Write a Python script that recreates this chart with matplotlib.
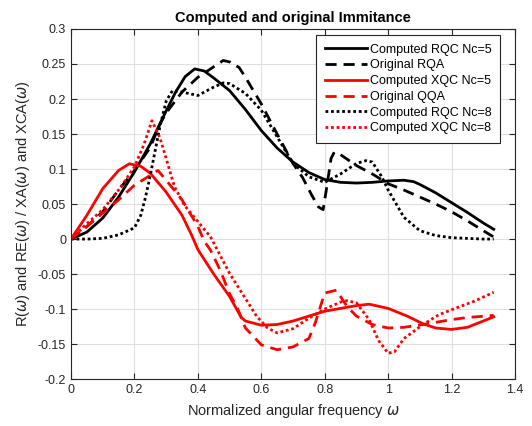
import matplotlib
matplotlib.use("Agg")
import matplotlib.pyplot as plt

# Computed RQC Nc=5 (solid black)
x_rqc5 = [0, 0.05, 0.1, 0.15, 0.2, 0.25, 0.3, 0.33, 0.36, 0.39, 0.42, 0.45, 0.5, 0.55, 0.6, 0.65,
          0.7, 0.75, 0.8, 0.85, 0.9, 0.95, 1.0, 1.05, 1.08, 1.1, 1.15, 1.2, 1.25, 1.3, 1.333]
y_rqc5 = [0, 0.01, 0.03, 0.06, 0.096, 0.136, 0.183, 0.21, 0.232, 0.243, 0.24, 0.23, 0.212, 0.185,
          0.155, 0.13, 0.11, 0.095, 0.085, 0.081, 0.08, 0.081, 0.083, 0.084, 0.082, 0.078, 0.066,
          0.052, 0.038, 0.023, 0.014]

# Original RQA (dashed black)
x_rqa = [0, 0.05, 0.1, 0.15, 0.2, 0.25, 0.28, 0.3, 0.35, 0.4, 0.45, 0.48, 0.5, 0.53, 0.55, 0.6,
         0.65, 0.7, 0.73, 0.76, 0.78, 0.795, 0.805, 0.82, 0.83, 0.845, 0.9, 0.95, 1.0, 1.05, 1.1,
         1.15, 1.2, 1.25, 1.3, 1.333]
y_rqa = [0, 0.018, 0.039, 0.07, 0.098, 0.131, 0.164, 0.18, 0.21, 0.231, 0.246, 0.255, 0.253,
         0.245, 0.231, 0.193, 0.15, 0.108, 0.088, 0.062, 0.046, 0.042, 0.07, 0.115, 0.124, 0.122,
         0.105, 0.093, 0.079, 0.07, 0.06, 0.05, 0.039, 0.026, 0.012, 0.003]

# Computed XQC Nc=5 (solid red)
x_xqc5 = [0, 0.05, 0.1, 0.15, 0.184, 0.22, 0.25, 0.3, 0.35, 0.38, 0.4, 0.45, 0.5, 0.537, 0.55,
          0.6, 0.65, 0.7, 0.75, 0.8, 0.85, 0.9, 0.94, 1.0, 1.06, 1.11, 1.15, 1.2, 1.25, 1.3, 1.333]
y_xqc5 = [0, 0.034, 0.072, 0.098, 0.1075, 0.104, 0.094, 0.067, 0.034, 0.006, -0.015, -0.05,
          -0.082, -0.112, -0.117, -0.123, -0.122, -0.117, -0.11, -0.103, -0.099, -0.095, -0.093,
          -0.099, -0.11, -0.121, -0.127, -0.129, -0.126, -0.117, -0.111]

# Original QQA (dashed red)
x_qqa = [0, 0.05, 0.1, 0.15, 0.2, 0.25, 0.274, 0.3, 0.35, 0.4, 0.42, 0.44, 0.47, 0.5, 0.526,
         0.55, 0.6, 0.65, 0.7, 0.75, 0.77, 0.8, 0.837, 0.87, 0.9, 0.95, 1.0, 1.05, 1.11, 1.2,
         1.25, 1.333]
y_qqa = [0, 0.018, 0.037, 0.056, 0.077, 0.091, 0.098, 0.084, 0.056, 0.018, -0.003, -0.016,
         -0.044, -0.078, -0.1, -0.127, -0.151, -0.158, -0.154, -0.142, -0.12, -0.077, -0.073,
         -0.096, -0.11, -0.122, -0.127, -0.126, -0.122, -0.115, -0.112, -0.109]

# Computed RQC Nc=8 (dotted black)
x_rqc8 = [0, 0.05, 0.1, 0.15, 0.2, 0.22, 0.235, 0.25, 0.28, 0.3, 0.32, 0.35, 0.4, 0.45, 0.48,
          0.5, 0.55, 0.6, 0.65, 0.7, 0.75, 0.8, 0.85, 0.9, 0.93, 0.95, 0.98, 1.0, 1.05, 1.1,
          1.15, 1.2, 1.25, 1.3, 1.333]
y_rqc8 = [0, 0.0, 0.001, 0.006, 0.016, 0.034, 0.06, 0.091, 0.16, 0.197, 0.212, 0.21, 0.205,
          0.217, 0.223, 0.222, 0.208, 0.184, 0.146, 0.108, 0.089, 0.081, 0.093, 0.108, 0.112,
          0.11, 0.089, 0.07, 0.031, 0.012, 0.005, 0.002, 0.001, 0.0, 0.0]

# Computed XQC Nc=8 (dotted red)
x_xqc8 = [0, 0.05, 0.1, 0.15, 0.2, 0.23, 0.255, 0.28, 0.3, 0.326, 0.358, 0.4, 0.44, 0.5, 0.553,
          0.585, 0.62, 0.65, 0.7, 0.75, 0.8, 0.85, 0.87, 0.9, 0.94, 0.97, 1.0, 1.02, 1.05, 1.11,
          1.16, 1.2, 1.27, 1.333]
y_xqc8 = [0, 0.022, 0.042, 0.07, 0.103, 0.135, 0.169, 0.145, 0.115, 0.075, 0.048, 0.025, 0.003,
          -0.049, -0.087, -0.11, -0.127, -0.134, -0.128, -0.113, -0.1, -0.09, -0.088, -0.091,
          -0.115, -0.145, -0.163, -0.161, -0.142, -0.122, -0.108, -0.101, -0.089, -0.076]

plt.rcParams["font.family"] = ["Liberation Sans", "DejaVu Sans"]

fig = plt.figure(figsize=(5.32, 4.26), dpi=100)
fig.set_facecolor("white")
ax = fig.add_axes([0.1335, 0.110, 0.8345, 0.822])

lw = 2
dash = (0, (4, 2.5))
dot = (0, (1, 1))
ax.plot(x_rqc5, y_rqc5, color="black", linestyle="-", linewidth=lw, label="Computed RQC Nc=5")
ax.plot(x_rqa, y_rqa, color="black", linestyle=dash, linewidth=lw, label="Original RQA")
ax.plot(x_xqc5, y_xqc5, color="red", linestyle="-", linewidth=lw, label="Computed XQC Nc=5")
ax.plot(x_qqa, y_qqa, color="red", linestyle=dash, linewidth=lw, label="Original QQA")
ax.plot(x_rqc8, y_rqc8, color="black", linestyle=dot, linewidth=lw, label="Computed RQC Nc=8")
ax.plot(x_xqc8, y_xqc8, color="red", linestyle=dot, linewidth=lw, label="Computed XQC Nc=8")

ax.set_xlim(0, 1.4)
ax.set_ylim(-0.2, 0.3)
ax.set_xticks([0, 0.2, 0.4, 0.6, 0.8, 1, 1.2, 1.4])
ax.set_xticklabels(["0", "0.2", "0.4", "0.6", "0.8", "1", "1.2", "1.4"])
ax.set_yticks([-0.2, -0.15, -0.1, -0.05, 0, 0.05, 0.1, 0.15, 0.2, 0.25, 0.3])
ax.set_yticklabels(["-0.2", "-0.15", "-0.1", "-0.05", "0", "0.05", "0.1", "0.15", "0.2", "0.25", "0.3"])
ax.grid(True, color="#e0e0e0", linewidth=0.8)
ax.set_axisbelow(True)
ax.tick_params(direction="in", top=True, right=True, labelsize=9, colors="#262626", length=4)
for s in ax.spines.values():
    s.set_color("#262626")
    s.set_linewidth(0.8)

ax.set_title("Computed and original Immitance", fontsize=10.5, fontweight="bold", pad=5)
ax.set_xlabel(r"Normalized angular frequency $\omega$", fontsize=10.5, color="#262626")
ax.set_ylabel(r"R($\omega$) and RE($\omega$) / XA($\omega$) and XCA($\omega$)", fontsize=10.5,
              color="#262626")

leg = ax.legend(loc="upper right", bbox_to_anchor=(0.966, 0.983), borderaxespad=0,
                fontsize=9, handlelength=3.4, handletextpad=0.2, labelspacing=0.3,
                borderpad=0.7, fancybox=False, framealpha=1, edgecolor="#262626")
leg.get_frame().set_linewidth(0.8)

fig.savefig("out.png", dpi=100)
